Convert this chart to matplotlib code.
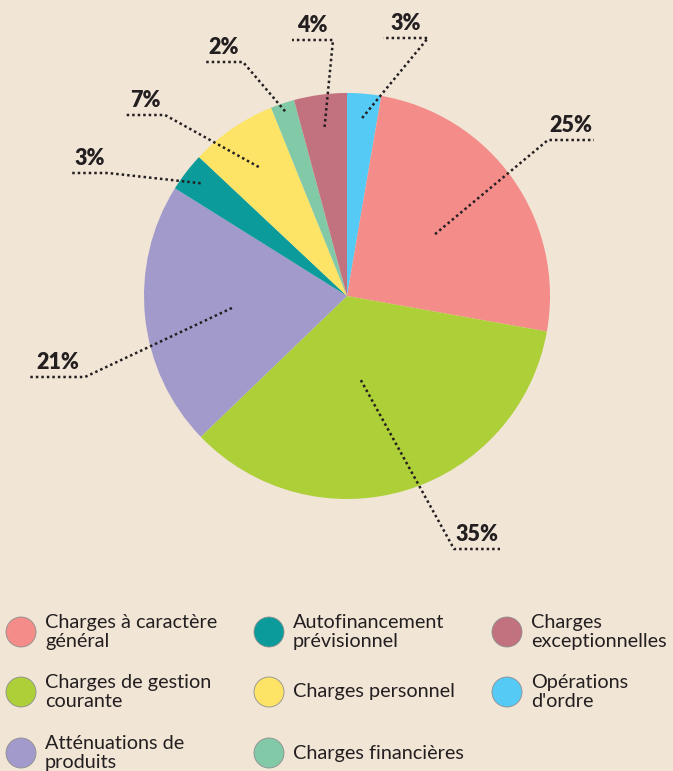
import matplotlib
matplotlib.use('Agg')
import matplotlib.pyplot as plt
import numpy as np
from matplotlib.patches import Circle

W, H = 673, 771

# slices, clockwise from the top
categories = ["Opérations d'ordre", 'Charges à caractère général', 'Charges de gestion courante',
              'Atténuations de produits', 'Autofinancement prévisionnel', 'Charges personnel',
              'Charges financières', 'Charges exceptionnelles']
shares = [2.7, 25.1, 35.0, 21.1, 3.1, 6.9, 1.9, 4.2]
colors = ['#55CAF5', '#F48C89', '#ADCF37', '#A29ACB', '#0B9B9A', '#FDE467', '#82C9A8', '#C2717E']

# legend entries (column by column) as they are written in the picture
legend_order = [1, 2, 3, 4, 5, 6, 7, 0]
legend_text = ['Charges à caractère\ngénéral', 'Charges de gestion\ncourante', 'Atténuations de\nproduits',
               'Autofinancement\nprévisionnel', 'Charges personnel', 'Charges financières',
               'Charges\nexceptionnelles', "Opérations\nd'ordre"]

BG = '#F1E5D6'
INK = '#231F20'

# leader line layout in pixels (y down): where in the wedge it starts, elbow, end of the flat part
anchor_r = [0.88, 0.53, 0.42, 0.57, 0.91, 0.77, 0.96, 0.84]
anchor_f = [0.5, 0.5, 0.44, 0.5, 0.5, 0.5, 0.5, 0.5]
elbows = [(428, 38), (548, 140), (454, 549), (85, 377), (108, 173), (165, 115), (243, 62), (333, 40)]
ends = [(383, 38), (594, 140), (500, 549), (30, 377), (71, 173), (125, 115), (205, 62), (292, 40)]


def py(y):
    return H - y


fig = plt.figure(figsize=(W / 100, H / 100), dpi=100, facecolor=BG)
ax = fig.add_axes([0, 0, 1, 1])
ax.set_facecolor(BG)

wedges, _ = ax.pie(shares, colors=colors, startangle=90, counterclock=False,
                   center=(347, py(296)), radius=203,
                   wedgeprops=dict(linewidth=0))

ax.set_xlim(0, W)
ax.set_ylim(0, H)
ax.set_aspect('equal')
ax.axis('off')

for i, w in enumerate(wedges):
    ang = np.deg2rad(w.theta1 + (w.theta2 - w.theta1) * anchor_f[i])
    cx, cy = w.center
    ax_, ay_ = cx + w.r * anchor_r[i] * np.cos(ang), cy + w.r * anchor_r[i] * np.sin(ang)
    ex, ey = elbows[i]
    fx, fy = ends[i]
    ax.plot([ax_, ex, fx], [ay_, py(ey), py(fy)], color=INK, lw=1.8,
            linestyle=(0, (1, 1.2)), solid_joinstyle='round')
    ax.text((ex + fx) / 2, py(ey) + 4, '%d%%' % round(shares[i]), ha='center', va='bottom',
            fontsize=15.5, fontweight='heavy', color=INK, family='Lato')

# legend
col_x = [21, 269, 507]
row_y = [632, 692, 753]
for k, idx in enumerate(legend_order):
    c, r = divmod(k, 3)
    x, y = col_x[c], row_y[r]
    ax.add_patch(Circle((x, py(y)), 15, facecolor=colors[idx], edgecolor='#8f8f8f', lw=0.6))
    ax.text(x + 24, py(y), legend_text[k], ha='left', va='center', fontsize=14.3,
            color=INK, family='Lato', linespacing=1.12)

plt.savefig('out.png', dpi=100, facecolor=BG)
